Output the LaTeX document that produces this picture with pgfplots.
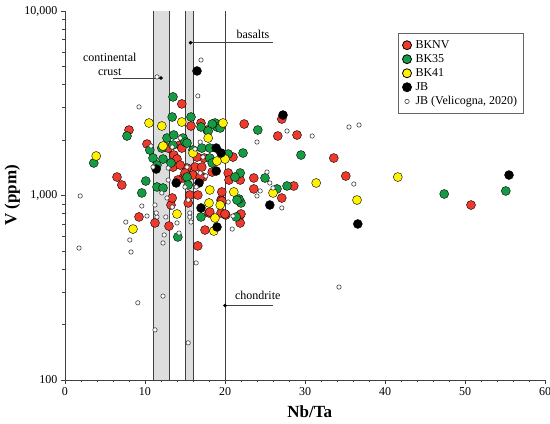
\documentclass[border=0pt]{standalone}
\usepackage{fontspec}
\setmainfont{Liberation Serif}
\usepackage{pgfplots}
\pgfplotsset{compat=1.18}
\definecolor{cred}{HTML}{EE3A2C}
\definecolor{cgreen}{HTML}{169B45}
\definecolor{cyellow}{HTML}{FFF200}
\definecolor{band}{HTML}{CFCFCF}
\definecolor{axisgray}{HTML}{404040}
\begin{document}
\begin{tikzpicture}
\begin{axis}[
  scale only axis, width=480pt, height=369pt,
  xmin=0, xmax=60, ymin=100, ymax=10000, ymode=log,
  axis lines=left, axis line style={-, axisgray, line width=0.8pt},
  tick align=outside, tick style={axisgray, line width=0.6pt},
  major tick length=4pt, minor tick length=2.5pt,
  xtick={0,10,...,60}, minor x tick num=4,
  ytick={100,1000,10000}, yticklabels={100,{1,000},{10,000}},
  minor ytick={200,300,400,500,600,700,800,900,2000,3000,4000,5000,6000,7000,8000,9000},
  /pgf/number format/assume math mode=true,
  ticklabel style={font=\fontsize{12}{14}\selectfont},
  xlabel={\textbf{Nb/Ta}}, ylabel={\textbf{V (ppm)}},
  label style={font=\fontsize{17}{20}\selectfont},
  x label style={at={(axis description cs:0.51,-0.087)}, anchor=center},
  y label style={at={(axis description cs:-0.110,0.5)}, anchor=center},
  clip=false,
  legend style={at={(axis description cs:0.694,0.940)}, anchor=north west,
    draw=black!60, line width=0.8pt, font=\fontsize{12}{14}\selectfont,
    cells={anchor=west}, row sep=0.6pt, column sep=2pt,
    inner ysep=5pt, inner xsep=4pt},
  legend image code/.code={\draw[#1] plot coordinates {(0.43cm,0cm)};},
  big/.style={only marks, mark=*, mark size=4.5pt, mark options={draw=black!80, line width=0.7pt}},
]
\coordinate (SW) at (rel axis cs:0,0);
\coordinate (NE) at (rel axis cs:1,1);

% BKNV
\addplot[big, mark options={fill=cred}] coordinates {
(8,2264) (6.5,1259) (7.1,1140) (9.25,765) (11.25,710) (13,683) (16.6,533)
(18,804) (17.5,650) (19.5,804) (20.1,784) (21.9,784) (21.9,710) (13.25,888)
(19.5,945) (27.1,969) (27.1,2597) (26.6,2101) (29,2127) (33.6,1596) (35.1,1275)
(50.75,888) (28.6,1126) (22.4,2440) (21,1616) (20.4,1324) (21.9,1213) (23.6,1244)
(23.6,1085) (19.6,1045) (19.6,934) (14.6,3136) (17,2471) (15.75,2380) (17.75,2264)
(10.25,1901) (14.4,1877) (12.9,1808) (14.6,1808) (13.6,1657) (14,1576) (17.4,1596)
(16.5,1616) (16.25,1426) (17.1,1426) (17.25,1259) (20.5,1213) (15.25,1409) (16,1291)
(14.75,1244) (13.5,1426) (14.4,1462) (15,1324) (13.4,969) (15.4,911) (15.6,1006)
(16.6,1006) (16.9,1259) (14.1,1213) (18.4,1340) (18.1,814) (22,794) (20,794)
};
\addlegendentry{BKNV}
% BK35
\addplot[big, mark options={fill=cgreen}] coordinates {
(7.75,2101) (3.6,1500) (10.1,1198) (9.6,1032) (14.1,596) (17,765) (22,911)
(29.5,1657) (47.4,1019) (55.1,1058) (27.75,1126) (26.5,1085) (24.1,2264) (18.75,2471)
(19,2351) (22.25,1699) (20.4,1678) (21.9,1324) (21.25,1259) (25,1244) (21.75,957)
(21.4,765) (13.5,3421) (13.4,2663) (15.75,2663) (18.4,2440) (19.4,2322) (17,2351)
(12.75,2049) (13.6,2127) (14.75,2049) (10.6,1764) (12.1,1808) (13.5,1877) (15,1949)
(16,1764) (17.1,1808) (18.1,1808) (11,1596) (12.25,1576) (18.1,1596) (17.9,2236)
(15.25,1925) (13.25,1500) (15.25,1259) (11.5,1112) (12.25,1098) (15.4,1140) (11.5,1462)
(21.5,945) (18.4,1500)
};
\addlegendentry{BK35}
% BK41
\addplot[big, mark options={fill=cyellow}] coordinates {
(3.9,1637) (8.5,658) (14,794) (18,911) (18.75,755) (18.6,642) (19.4,888)
(36.5,945) (31.4,1169) (41.6,1259) (26,1032) (19.75,2471) (20,1576) (19,1537)
(21.1,1045) (18.1,1071) (14.6,2502) (17.9,2049) (16,1699) (10.5,2471) (12.1,2380)
(12.25,1854)
};
\addlegendentry{BK41}
% JB
\addplot[big, mark options={fill=black}] coordinates {
(16.5,4730) (27.25,2730) (55.5,1291) (36.6,701) (25.6,888) (17,856) (19,675)
(18.9,1808) (19.5,1699) (18.9,1357) (16.75,1169) (13.9,1169) (11.4,1391)
};
\addlegendentry{JB}
% JB (Velicogna, 2020)
\addplot[only marks, mark=*, mark size=2.2pt, mark options={draw=black!75, fill=white, line width=0.6pt}] coordinates {
(1.9,994) (1.75,519) (9.25,3021) (7.6,718) (8.1,574) (8.25,494) (9.1,262)
(11.25,187) (12.25,285) (15.4,159) (16.4,431) (9.6,877) (10.25,774) (11.25,888)
(11.5,765) (12.25,553) (12.6,765) (14,710) (14.25,626) (15.6,765) (15.75,718)
(20.4,922) (20.9,658) (21,774) (27.1,856) (34.25,319) (27.75,2236) (30.9,2101)
(35.5,2351) (36.75,2410) (36.1,1154) (25.6,1169) (24,1949) (25.25,1340) (24.4,1058)
(26,1098) (24,994) (16.6,3464) (16.9,1949) (16.25,1786) (16.9,1324) (10.75,1854)
(11.4,804) (12.4,611) (12.1,1032) (13.4,866) (15.6,804) (17,5426) (11.5,4392)
(11,1426) (12.9,1409) (15.25,1426) (12.75,969) (15.4,945) (14.4,2049) (13.4,1831)
(16.4,1112) (15,1112) (12.9,1213) (17.6,1275) (17.25,1616)
};
\addlegendentry{JB (Velicogna, 2020)}

% reference bands
\fill[band, opacity=0.7] (axis cs:11,100) rectangle (axis cs:13,10000);
\fill[band, opacity=0.7] (axis cs:15,100) rectangle (axis cs:16,10000);
\foreach \xv in {11,13,15,16,20} {
  \edef\temp{\noexpand\draw[axisgray, line width=0.8pt] (axis cs:\xv,100) -- (axis cs:\xv,10000);}
  \temp
}

% annotation markers
\addplot[only marks, mark=*, mark size=1.6pt, black, forget plot] coordinates {
(12,4335) (15.7,6730) (20,253)
};
\draw[axisgray, line width=0.6pt] (axis cs:6,4335) -- (axis cs:12,4335);
\draw[axisgray, line width=0.6pt] (axis cs:15.7,6730) -- (axis cs:26,6730);
\draw[axisgray, line width=0.6pt] (axis cs:20,253) -- (axis cs:26,253);
\node[font=\fontsize{12}{14}\selectfont, align=center] at (axis cs:5.6,5163) {continental\\crust};
\node[font=\fontsize{12}{14}\selectfont] at (axis cs:23.5,7505) {basalts};
\node[font=\fontsize{12}{14}\selectfont] at (axis cs:24.1,288) {chondrite};
\end{axis}
\pgfresetboundingbox
\path ([shift={(-65pt,-44pt)}]SW) rectangle ([shift={(5pt,11pt)}]NE);
\end{tikzpicture}
\end{document}
